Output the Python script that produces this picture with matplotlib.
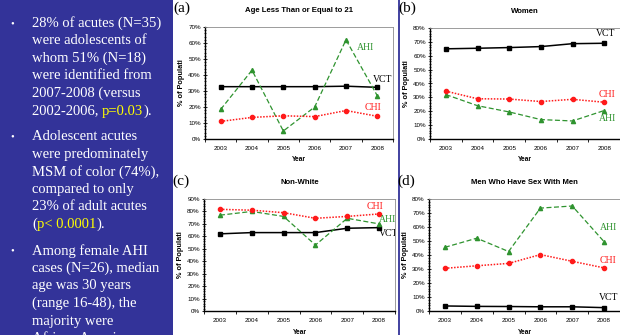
import numpy as np
import matplotlib
matplotlib.use('Agg')
import matplotlib.pyplot as plt
from matplotlib.patches import Rectangle
from matplotlib.lines import Line2D
from matplotlib.ticker import MultipleLocator, FuncFormatter

years = ['2003', '2004', '2005', '2006', '2007', '2008']

# panel (a) age <= 21
a_ahi = [18.5, 43, 5, 20, 62, 27]
a_vct = [32.7, 32.7, 32.7, 32.7, 33.0, 32.3]
a_chi = [11, 13.5, 14.5, 14, 17.8, 14.2]
# panel (b) women
b_vct = [65, 65.4, 65.9, 66.6, 68.7, 69.0]
b_chi = [34.5, 29, 28.8, 27, 28.6, 26.5]
b_ahi = [32, 24, 19.5, 14, 13, 20.5]
# panel (c) non-white
c_chi = [81.7, 81, 79, 74.5, 76, 78]
c_ahi = [77, 80, 76, 53, 74.5, 70]
c_vct = [62, 63, 63, 63, 66.5, 67]
# panel (d) MSM
d_ahi = [45.5, 52, 42.5, 73.5, 75, 49.5]
d_chi = [30.5, 32.3, 34, 40.3, 35.5, 30.8]
d_vct = [3.6, 3.3, 3.2, 3.0, 3.0, 2.4]

bullets = [
    ['28% of acutes (N=35)', 'were adolescents of', 'whom 51% (N=18)',
     'were identified from', '2007-2008 (versus',
     [('2002-2006, ', 'w'), ('p=0.03', 'y'), (').', 'w')]],
    ['Adolescent acutes', 'were predominately', 'MSM of color (74%),',
     'compared to only', '23% of adult acutes',
     [('(', 'w'), ('p< 0.0001', 'y'), (').', 'w')]],
    ['Among female AHI', 'cases (N=26), median', 'age was 30 years',
     '(range 16-48), the', 'majority were', 'African American'],
]

W, H = 620, 335
fig = plt.figure(figsize=(W / 100, H / 100), dpi=100)
fig.patch.set_facecolor('white')

BLUE = '#333399'
GREEN = '#2f932f'
RED = '#ff1a1a'
seriffam = ['Liberation Serif', 'DejaVu Serif']
sansfam = ['Liberation Sans', 'DejaVu Sans']

# left text panel
fig.patches.append(Rectangle((0, 0), 173 / W, 1, transform=fig.transFigure,
                             facecolor=BLUE, edgecolor='none', zorder=0))
fig.add_artist(Line2D([399 / W, 399 / W], [0, 1], transform=fig.transFigure,
                      color=BLUE, lw=1.3))

fig.canvas.draw()
renderer = fig.canvas.get_renderer()
colmap = {'w': 'white', 'y': '#ffff00'}
starts = [27, 140.5, 254.5]
step = 17.5
for b, lines in enumerate(bullets):
    y0 = starts[b]
    fig.text(10 / W, 1 - (y0 - 1) / H, '\u2022', color='white', fontsize=7.5,
             family=seriffam, va='baseline')
    for i, ln in enumerate(lines):
        yy = 1 - (y0 + i * step) / H
        if isinstance(ln, str):
            fig.text(32 / W, yy, ln, color='white', fontsize=10.5,
                     family=seriffam, va='baseline')
        else:
            x = 32 / W
            for seg, c in ln:
                t = fig.text(x, yy, seg, color=colmap[c], fontsize=10.5,
                             family=seriffam, va='baseline')
                bb = t.get_window_extent(renderer)
                x += bb.width / W


def make_panel(rect, letter, title, ymax, series, labels, clip=False):
    l, r, t, btm = rect
    ax = fig.add_axes([l / W, 1 - btm / H, (r - l) / W, (btm - t) / H])
    x = np.arange(len(years))
    for vals, style in series:
        ax.plot(x, vals, **style)
    ax.set_xlim(-0.5, len(years) - 0.5)
    ax.set_ylim(0, ymax)
    ax.set_xticks(x)
    ax.set_xticklabels(years, fontsize=4.5, family=sansfam)
    ax.set_xticks(np.arange(len(years) + 1) - 0.5, minor=True)
    ax.tick_params(axis='x', which='major', length=0, pad=5)
    ax.tick_params(axis='x', which='minor', length=2.5, width=0.6, direction='out')
    ax.yaxis.set_major_locator(MultipleLocator(10))
    ax.yaxis.set_minor_locator(MultipleLocator(2))
    ax.yaxis.set_major_formatter(FuncFormatter(lambda v, p: '%d%%' % v))
    ax.tick_params(axis='y', which='major', length=3, width=0.6,
                   direction='inout', labelsize=4.5, pad=1.5)
    ax.tick_params(axis='y', which='minor', length=2, width=0.5, direction='inout')
    for lab in ax.get_yticklabels():
        lab.set_family(sansfam)
    ax.spines['left'].set_linewidth(1.0)
    ax.spines['bottom'].set_linewidth(1.0)
    ax.spines['top'].set_color('#8c8c8c')
    ax.spines['right'].set_color('#8c8c8c')
    ax.spines['top'].set_linewidth(0.6)
    ax.spines['right'].set_linewidth(0.6)
    ax.set_xlabel('Year', fontsize=4.8, fontweight='bold', family=sansfam, labelpad=4)
    ax.set_ylabel('% of Populati', fontsize=5.3, fontweight='bold', family=sansfam,
                  labelpad=2)
    ax.set_title(title, fontsize=5.6, fontweight='bold', family=sansfam, pad=11)
    for txt, xx, yy, c, ha in labels:
        ax.text(xx, yy, txt, color=c, fontsize=7, family=seriffam, ha=ha,
                va='center', clip_on=clip)
    fig.text((l - 32) / W, 1 - 8 / H if t < 100 else 1 - 181 / H, letter,
             fontsize=11, family=seriffam, va='center', ha='left')
    return ax


vct_style = dict(color='black', lw=1.1, marker='s', ms=3)
ahi_style = dict(color=GREEN, lw=0.9, ls=(0, (4, 2)), marker='^', ms=3)
chi_style = dict(color=RED, lw=1.1, ls=(0, (1, 1)), marker='o', ms=3)

make_panel((205, 393, 27, 139), '(a)', 'Age Less Than or Equal to 21', 70,
           [(a_vct, vct_style), (a_ahi, ahi_style), (a_chi, chi_style)],
           [('AHI', 4.62, 57.5, GREEN, 'center'), ('VCT', 5.16, 37, 'black', 'center'),
            ('CHI', 4.87, 19.4, RED, 'center')])
make_panel((430, 620, 28, 139), '(b)', 'Women', 80,
           [(b_vct, vct_style), (b_ahi, ahi_style), (b_chi, chi_style)],
           [('VCT', 5.03, 75.7, 'black', 'center'), ('CHI', 5.1, 32.4, RED, 'center'),
            ('AHI', 5.1, 15.1, GREEN, 'center')])
make_panel((204, 395, 199, 311), '(c)', 'Non-White', 90,
           [(c_vct, vct_style), (c_ahi, ahi_style), (c_chi, chi_style)],
           [('CHI', 4.87, 83.6, RED, 'center'), ('AHI', 5.0, 73.9, GREEN, 'left'),
            ('VCT', 5.0, 61.9, 'black', 'left')], clip=True)
make_panel((429, 620, 199, 311), '(d)', 'Men Who Have Sex With Men', 80,
           [(d_vct, vct_style), (d_ahi, ahi_style), (d_chi, chi_style)],
           [('AHI', 5.13, 59.3, GREEN, 'center'), ('CHI', 5.13, 36.4, RED, 'center'),
            ('VCT', 5.13, 9.3, 'black', 'center')])

fig.savefig('out.png', dpi=100)
